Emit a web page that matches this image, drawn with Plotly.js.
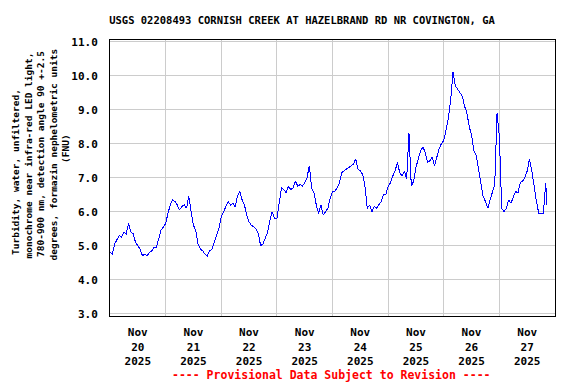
<!DOCTYPE html>
<html><head><meta charset="utf-8">
<script src="https://cdn.plot.ly/plotly-3.0.1.min.js"></script>
<style>html,body{margin:0;padding:0;background:#fff;}#chart{width:576px;height:384px;}
#chart .scatterlayer path.js-line{shape-rendering:crispEdges;}</style>
</head><body><div id="chart"></div>
<script>
// Hourly turbidity readings (FNU)
const dayDates = ['2025-11-20','2025-11-21','2025-11-22','2025-11-23','2025-11-24','2025-11-25','2025-11-26','2025-11-27'];
const nov20 = [4.8,4.75,5.05,5.2,5.3,5.25,5.4,5.35,5.65,5.4,5.35,5.1,5.0,4.9,4.7,4.75,4.7,4.8,4.85,4.95,4.95,5.2,5.45,5.55];
const nov21 = [5.65,5.95,6.2,6.35,6.3,6.2,6.05,6.15,6.2,6.1,6.45,6.0,5.6,5.45,5.05,4.9,4.85,4.75,4.7,4.85,4.9,5.1,5.3,5.5];
const nov22 = [5.85,6.0,6.1,6.3,6.2,6.25,6.15,6.45,6.6,6.35,6.2,5.9,5.7,5.6,5.55,5.5,5.35,5.0,5.05,5.2,5.4,5.75,6.0,5.8];
const nov23 = [5.8,6.25,6.7,6.65,6.55,6.75,6.65,6.7,6.9,6.75,6.8,6.75,6.85,7.0,7.35,6.7,6.55,6.2,5.95,6.2,5.9,6.0,6.1,6.4];
const nov24 = [6.6,6.6,6.7,6.85,7.15,7.2,7.25,7.3,7.35,7.4,7.55,7.25,7.2,7.1,6.75,6.1,6.2,6.0,6.15,6.1,6.2,6.3,6.5,6.5];
const nov25 = [6.75,6.85,7.05,7.2,7.45,7.15,7.05,7.2,6.95,8.3,6.75,6.9,7.3,7.6,7.8,7.9,7.75,7.45,7.5,7.6,7.35,7.6,7.85,8.0];
const nov26 = [8.1,8.4,8.75,9.3,10.1,9.7,9.6,9.5,9.4,9.1,8.9,8.5,8.25,7.8,7.65,7.25,6.85,6.45,6.3,6.1,6.35,6.55,6.8,8.9];
const nov27 = [8.2,6.1,6.0,6.1,6.35,6.25,6.4,6.6,6.55,6.85,6.9,7.0,7.2,7.55,7.2,6.7,6.3,5.95,5.95,5.95,6.85];
const lastTime = '2025-11-27 20:30';
const lastValue = 6.2;

const tickLabels = ['Nov<br>20<br>2025','Nov<br>21<br>2025','Nov<br>22<br>2025','Nov<br>23<br>2025','Nov<br>24<br>2025','Nov<br>25<br>2025','Nov<br>26<br>2025','Nov<br>27<br>2025'];
const yTicks = [3,4,5,6,7,8,9,10,11];
const yLabelLines = ['Turbidity, water, unfiltered,','monochrome near infra-red LED light,','780-900 nm, detection angle 90 +-2.5','degrees, formazin nephelometric units','(FNU)'];

const dayValues = [nov20,nov21,nov22,nov23,nov24,nov25,nov26,nov27];
const xs = [], ys = [];
dayValues.forEach((arr, d) => {
  arr.forEach((v, h) => {
    xs.push(dayDates[d] + ' ' + String(h).padStart(2,'0') + ':00');
    ys.push(v);
  });
});
xs.push(lastTime); ys.push(lastValue);

const noons = dayDates.map(d => d + ' 12:00');
const midnights = dayDates.slice(1).map(d => d + ' 00:00');

const F = 'DejaVu Sans Mono';
const trace = {x: xs, y: ys, type: 'scatter', mode: 'lines',
  line: {color: '#0000ff', width: 1}, hoverinfo: 'skip', showlegend: false};

// y-axis title as separate rotated lines
const yLabX = [15, 27.5, 40, 52.5, 65];
const yLabY = [172, 156, 154, 154, 149];
const annotations = yLabelLines.map((t, i) => ({
  text: t, textangle: -90, showarrow: false,
  xref: 'paper', yref: 'paper',
  x: (yLabX[i] - 110) / 445, y: (316 - yLabY[i]) / 276,
  xanchor: 'center', yanchor: 'middle',
  font: {family: F, size: 9.5, weight: 'bold', color: '#000'}
}));
annotations.push({
  text: '---- Provisional Data Subject to Revision ----', showarrow: false,
  xref: 'paper', yref: 'paper', x: (331 - 110) / 445, y: 0, yshift: -59,
  xanchor: 'center', yanchor: 'middle',
  font: {family: F, size: 11.5, weight: 'bold', color: '#ff0000'}
});

const layout = {
  width: 576, height: 384,
  margin: {l: 110, r: 21, t: 40, b: 68, pad: 0},
  paper_bgcolor: '#fff', plot_bgcolor: '#fff',
  title: {text: 'USGS 02208493 CORNISH CREEK AT HAZELBRAND RD NR COVINGTON, GA',
    font: {family: F, size: 10.5, weight: 'bold', color: '#000'},
    xref: 'container', x: 302/576, xanchor: 'center',
    yref: 'container', y: 1 - 20/384, yanchor: 'middle'},
  xaxis: {type: 'date', range: ['2025-11-20 00:00', '2025-11-28 00:00'],
    tickmode: 'array', tickvals: noons, ticktext: tickLabels,
    showgrid: false, ticks: '', ticklabelstandoff: 6,
    tickfont: {family: F, size: 11, weight: 'bold', color: '#000'},
    minor: {tickmode: 'array', tickvals: midnights, showgrid: true, gridcolor: '#cccccc', gridwidth: 1, ticks: ''},
    showline: true, linecolor: '#000', linewidth: 1, mirror: true, zeroline: false, automargin: false},
  yaxis: {range: [2.932, 11.05], tickmode: 'array', tickvals: yTicks,
    ticktext: yTicks.map(v => v.toFixed(1)),
    showgrid: true, gridcolor: '#cccccc', gridwidth: 1, ticks: '', ticklabelstandoff: 9,
    tickfont: {family: F, size: 11, weight: 'bold', color: '#000'},
    showline: true, linecolor: '#000', linewidth: 1, mirror: true, zeroline: false, automargin: false},
  annotations: annotations
};
Plotly.newPlot('chart', [trace], layout, {staticPlot: true, displayModeBar: false});
</script></body></html>
